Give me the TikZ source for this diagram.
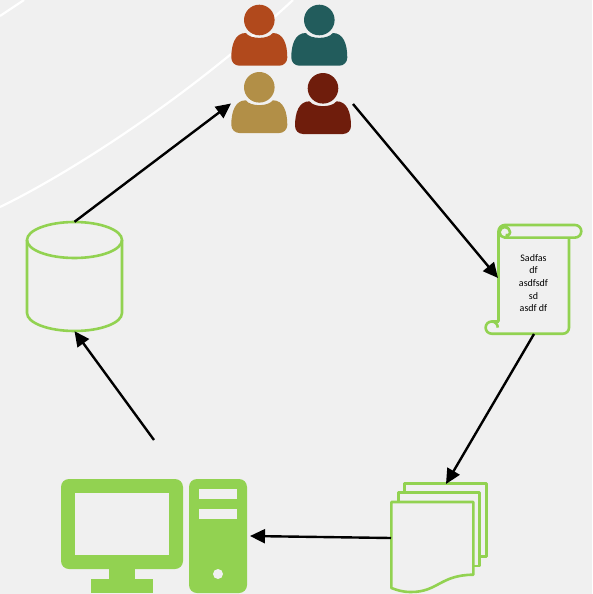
\documentclass[tikz,border=0pt]{standalone}
\usepackage{fontspec}
\setmainfont{Carlito}
\usetikzlibrary{positioning}
\usetikzlibrary{shapes,shapes.geometric,arrows.meta,fit,calc}
\definecolor{bgcol}{HTML}{F0F0F0}
\definecolor{leaf}{HTML}{92D251}
\definecolor{rust}{HTML}{B1491C}
\definecolor{teal}{HTML}{225C5C}
\definecolor{ochre}{HTML}{B28F47}
\definecolor{maroon}{HTML}{6F1D0C}
\tikzset{
  outline/.style={draw=leaf,line width=2.6pt,line join=round},
  flow/.style={-{Triangle[length=15pt,width=14pt]},line width=2.4pt},
  swoosh/.style={draw=white,line width=2.2pt},
  person/.pic={
    \fill[pic actions] (-20,45.7) arc (90:180:8) .. controls (-28,24) and (-24,13) .. (-13.5,13)
      .. controls (-9,19.5) and (9,19.5) .. (13.5,13)
      .. controls (24,13) and (28,24) .. (28,37.7) arc (0:90:8) -- cycle;
    \fill[pic actions] (0,0) circle (15.3);
  }
}
\begin{document}
\begin{tikzpicture}[x=1pt,y=-1pt]
  \fill[bgcol] (0,0) rectangle (592,594);
  \useasboundingbox (0,0) rectangle (592,594);
  \draw[swoosh] (0,207) .. controls (60,178) and (180,105) .. (293,0);
  \draw[swoosh] (0,16) -- (24,0);

  \pic[fill=rust] (p_1) at (259.3,20) {person};
  \pic[fill=teal] (p_2) at (319.3,20) {person};
  \pic[fill=ochre] (p_3) at (259.3,87.3) {person};
  \pic[fill=maroon] (p_4) at (323,88.3) {person};
  \coordinate (u_in) at (231,103.5);
  \coordinate (u_out) at (353,104);

  % scroll
  \draw[outline] (498.5,321.5) -- (498.5,231.3) arc (180:270:6.3) -- (575,225) arc (-90:90:6.3) -- (504.8,237.6)
    arc (90:360:5.3) arc (0:120:3);
  \draw[outline] (569,237.6) -- (569,327.7) arc (0:90:6) -- (491.7,333.7) arc (90:360:6.1) arc (0:-90:0);
  \draw[outline] (491.7,321.5) -- (498.5,321.5);
  \node[font=\fontsize{10}{12.7}\selectfont,align=center] (s_txt) at (533.5,283) {Sadfas\\df\\asdfsdf\\sd\\asdf df};
  \coordinate (s_in) at (498,278);
  \coordinate (s_out) at (534,334);

  % pages
  \draw[outline] (404.3,492.7) -- (404.3,483.3) -- (486.3,483.3) -- (486.3,556.3) -- (479.7,556.3);
  \draw[outline] (398.3,502) -- (398.3,492.7) -- (479.7,492.7) -- (479.7,566) -- (473.3,566);
  \draw[outline] (391.3,502) -- (473.3,502) -- (473.3,574.7) .. controls (440,575) and (438,592) .. (411,592)
    .. controls (402,592) and (397,590) .. (391.3,588) -- cycle;
  \coordinate (d_in) at (446,484);
  \coordinate (d_out) at (391,538);

  % computer
  \node[fill=leaf,rounded corners=8pt,minimum width=122pt,minimum height=90pt,inner sep=0pt] (screen) at (122,524) {};
  \node[fill=bgcol,minimum width=94pt,minimum height=62pt,inner sep=0pt] (glass) at (screen.center) {};
  \node[fill=leaf,minimum width=26pt,minimum height=11pt,inner sep=0pt,below=-0.5pt of screen] (stem) {};
  \node[fill=leaf,minimum width=62pt,minimum height=14pt,inner sep=0pt] (foot) at (122,586) {};
  \node[fill=leaf,rounded corners=8pt,minimum width=58pt,minimum height=114pt,inner sep=0pt,outer sep=3pt] (tower) at (218,536) {};
  \node[fill=bgcol,minimum width=38pt,minimum height=10pt,inner sep=0pt] (slot_1) at (218,494) {};
  \node[fill=bgcol,minimum width=38pt,minimum height=10pt,inner sep=0pt] (slot_2) at (218,514) {};
  \node[fill=bgcol,circle,minimum size=10pt,inner sep=0pt] (btn) at (218,574) {};
  \coordinate (c_out) at (154,440);

  % database
  \node[minimum width=95pt,minimum height=109pt,inner sep=0pt] (db) at (74.5,276.5) {};
  \draw[outline] (74.5,240) ellipse (47.5 and 18);
  \draw[outline] (27,240) -- (27,313) arc (180:0:47.5 and 18) -- (122,240);

  \draw[flow] (db.north) -- (u_in);
  \draw[flow] (u_out) -- (s_in);
  \draw[flow] (s_out) -- (d_in);
  \draw[flow] (d_out) -- (tower.east);
  \draw[flow] (c_out) -- (db.south);
\end{tikzpicture}
\end{document}
